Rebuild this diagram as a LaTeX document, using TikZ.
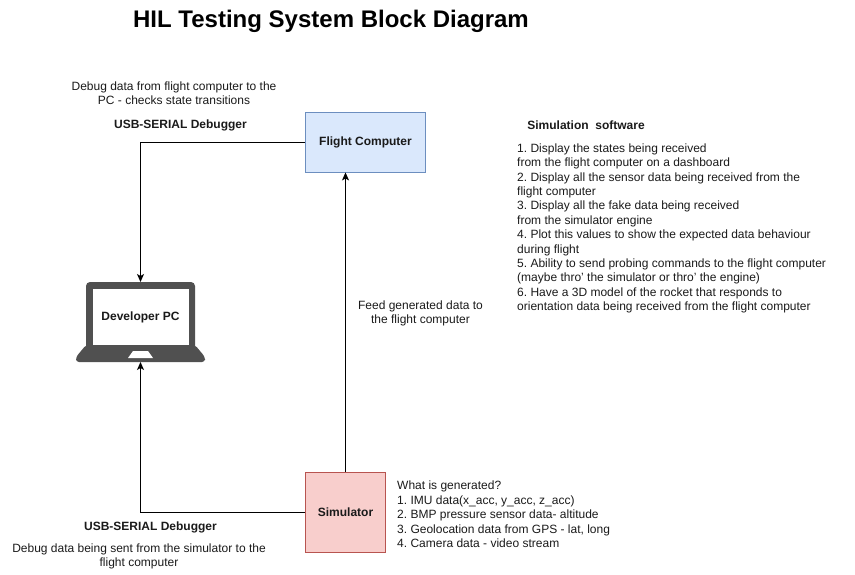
\documentclass[tikz,border=0pt]{standalone}
\usepackage{fontspec}
\setmainfont{Liberation Sans}
\usepackage[dvipsnames]{xcolor}
\usetikzlibrary{arrows.meta}
\definecolor{fcfill}{HTML}{DAE8FC}
\definecolor{fcline}{HTML}{6C8EBF}
\definecolor{simfill}{HTML}{F8CECC}
\definecolor{simline}{HTML}{B85450}
\definecolor{pcgrey}{HTML}{505050}
\definecolor{txtgrey}{HTML}{1A1A1A}
\frenchspacing

\begin{document}
\begin{tikzpicture}[x=1pt,y=-1pt,
      every node/.style={font=\fontsize{12}{14.4}\selectfont,text=txtgrey,inner sep=0pt},
      block/.style={draw,line width=0.9pt,minimum width=120pt,minimum height=60pt,font=\fontsize{12}{14.4}\selectfont\bfseries},
      strong/.style={font=\fontsize{12}{14.4}\selectfont\bfseries},
      note/.style={align=center},
      listing/.style={align=left,anchor=north west},
      link/.style={-{Stealth[length=8pt,width=7pt,inset=2pt]},line width=0.9pt}]
      \useasboundingbox (0,0) rectangle (855,575);
      \node[font=\fontsize{24}{28}\selectfont\bfseries,text=black] (title) at (331,21.5){HIL Testing System Block Diagram};

      % blocks
      \node[block,draw=fcline,fill=fcfill] (FC) at (365.5,142){Flight Computer};
      \node[block,draw=simline,fill=simfill,minimum width=80pt,minimum height=80pt] (SIM) at (345.5,512){Simulator};

      % laptop
      \fill[pcgrey,rounded corners=4pt] (86,282) -- (195,282) -- (195,350) -- (86,350) -- cycle;
      \fill[pcgrey,rounded corners=3pt] (86,345) -- (195,345) -- (205,357) -- (205,362) -- (76,362) -- (76,357) -- cycle;
      \node[fill=white,minimum width=96pt,minimum height=56pt,strong] (PC) at (140.5,317){Developer PC};
      \fill[white] (133,351) -- (148,351) -- (153,358) -- (128,358) -- cycle;
      \coordinate (PCtop) at (140.5,282);
      \coordinate (PCbot) at (140.5,362);

      % connectors
      \draw[link] (FC.west) -| (PCtop);
      \draw[link] (SIM.west) -| (PCbot);
      \draw[link] (SIM.north) -- (SIM.north |- FC.south);

      % labels
      \node[note] (debugtop) at (174,93){Debug data from flight computer to the\\PC - checks state transitions};
      \node[strong] (usbtop) at (180.5,125){USB-SERIAL Debugger};
      \node[note] (feed) at (420.5,313.5){Feed generated data to\\the flight computer};
      \node[strong] (usbbot) at (150.5,527){USB-SERIAL Debugger};
      \node[note] (debugbot) at (139,556.5){Debug data being sent from the simulator to the\\flight computer};
      \node[strong] (simsw) at (586,125){Simulation\ \ software};
      \node[listing] (swlist) at (517,143.5){1. Display the states being received\\
        from the flight computer on a dashboard\\
        2. Display all the sensor data being received from the\\
        flight computer\\
        3. Display all the fake data being received\\
        from the simulator engine\\
        4. Plot this values to show the expected data behaviour\\
        during flight\\
        5. Ability to send probing commands to the flight computer\\
        (maybe thro' the simulator or thro' the engine)\\
        6. Have a 3D model of the rocket that responds to\\
        orientation data being received from the flight computer};
      \node[listing] (genlist) at (397,481){What is generated?\\
        1. IMU data(x\_acc, y\_acc, z\_acc)\\
        2. BMP pressure sensor data- altitude\\
        3. Geolocation data from GPS - lat, long\\
        4. Camera data - video stream};
    \end{tikzpicture}
\end{document}
